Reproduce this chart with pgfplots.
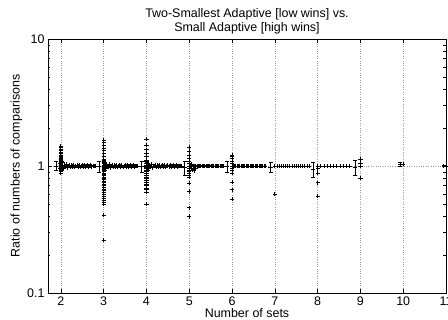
\documentclass[border=0pt]{standalone}
\usepackage{pgfplots}
\pgfplotsset{compat=1.18}
\usepackage{fontspec}
\setmainfont{Liberation Sans}
\pgfplotsset{pts/.style={black, only marks, mark=+, mark size=2.1bp, line width=0.75pt}}
\begin{document}
\begin{tikzpicture}
\useasboundingbox (-48bp,-27bp) rectangle (400bp,293bp);
\begin{axis}[at={(0,0)}, anchor=south west, scale only axis,
  width=398bp, height=254bp,
  ymode=log, xmin=1.7, xmax=11, ymin=0.1, ymax=10,
  xtick={2,3,4,5,6,7,8,9,10,11},
  ytick={0.1,1,10}, yticklabels={0.1,1,10},
  minor ytick={0.2,0.3,0.4,0.5,0.6,0.7,0.8,0.9,2,3,4,5,6,7,8,9},
  tick align=inside, major tick length=4bp, minor tick length=2.5bp,
  tick style={black, line width=0.5pt},
  grid=major, grid style={dotted, gray!80, line width=0.5pt},
  axis line style={line width=0.7pt},
  /pgf/number format/assume math mode=true,
  every tick label/.append style={font=\fontsize{12.5}{14}\selectfont},
  label style={font=\fontsize{12.5}{14}\selectfont},
  title style={font=\fontsize{12.5}{14}\selectfont, align=center, yshift=-5bp},
  title={Two-Smallest Adaptive [low wins] vs.\\Small Adaptive [high wins]},
  xlabel={Number of sets}, ylabel={Ratio of numbers of comparisons},
  xlabel style={yshift=4bp}, ylabel style={yshift=-2bp},
]
% n = 2
\addplot[pts] coordinates {(2,1.44)(2,1.40)(2,1.36)(2,1.32)(2,1.28)(2,1.25)(2,1.22)(2,1.19)(2,1.16)(2,1.14)(2,1.12)(2,1.10)(2,1.08)(2,1.06)(2,1.05)(2,1.04)(2,1.03)(2,1.02)(2,1.01)(2,1.0)(2,0.99)(2,0.98)(2,0.97)(2,0.96)(2,0.95)(2,0.94)(2,0.93)(2,0.92)(2,0.91)(2,0.90)(2,0.88)
(1.98,1.05)(1.98,0.95)(2.02,1.08)(2.03,0.93)(2.04,1.06)(2.05,0.95)
(2.025,1.02)(2.05,0.98)(2.075,1.01)(2.1,0.99)(2.125,1.03)(2.15,0.97)(2.175,1.0)(2.2,1.02)(2.225,0.98)(2.25,1.01)(2.275,0.99)(2.3,1.02)(2.325,0.98)(2.35,1.0)(2.375,1.01)(2.4,0.99)(2.425,1.02)(2.45,0.98)(2.475,1.0)(2.5,1.01)(2.525,0.99)(2.55,1.01)(2.575,0.99)(2.6,1.0)(2.625,1.01)(2.65,0.99)(2.675,1.0)(2.7,1.01)(2.725,0.99)(2.75,1.0)(2.775,1.0)(2.8,1.0)};
% n = 3
\addplot[pts] coordinates {(3,1.60)(3,1.53)(3,1.46)(3,1.38)(3,1.32)(3,1.26)(3,1.18)(3,1.13)(3,1.10)(3,1.08)(3,1.06)(3,1.04)(3,1.02)(3,1.0)(3,0.98)(3,0.96)(3,0.94)(3,0.92)(3,0.90)(3,0.88)(3,0.86)(3,0.84)(3,0.82)(3,0.80)(3,0.78)(3,0.76)(3,0.74)(3,0.72)(3,0.70)(3,0.68)(3,0.66)(3,0.64)(3,0.62)(3,0.60)(3,0.58)(3,0.56)(3,0.54)(3,0.52)(3,0.50)(3,0.41)(3,0.26)
(3.02,1.07)(3.03,0.93)(3.04,1.05)(3.05,0.95)
(3.025,1.02)(3.05,0.98)(3.075,1.01)(3.1,0.99)(3.125,1.03)(3.15,0.97)(3.175,1.0)(3.2,1.02)(3.225,0.98)(3.25,1.01)(3.275,0.99)(3.3,1.02)(3.325,0.98)(3.35,1.0)(3.375,1.01)(3.4,0.99)(3.425,1.02)(3.45,0.98)(3.475,1.0)(3.5,1.01)(3.525,0.99)(3.55,1.01)(3.575,0.99)(3.6,1.0)(3.625,1.01)(3.65,0.99)(3.675,1.0)(3.7,1.01)(3.725,0.99)(3.75,1.0)(3.775,1.0)(3.8,1.0)};
% n = 4
\addplot[pts] coordinates {(4,1.63)(4,1.46)(4,1.34)(4,1.26)(4,1.18)(4,1.11)(4,1.08)(4,1.05)(4,1.02)(4,1.0)(4,0.98)(4,0.96)(4,0.93)(4,0.90)(4,0.87)(4,0.85)(4,0.82)(4,0.80)(4,0.77)(4,0.75)(4,0.72)(4,0.70)(4,0.67)(4,0.65)(4,0.62)(4,0.50)
(4.02,1.07)(4.03,0.93)(4.04,1.05)(4.05,0.95)
(4.025,1.02)(4.05,0.98)(4.075,1.01)(4.1,0.99)(4.125,1.03)(4.15,0.97)(4.175,1.0)(4.2,1.02)(4.225,0.98)(4.25,1.01)(4.275,0.99)(4.3,1.02)(4.325,0.98)(4.35,1.0)(4.375,1.01)(4.4,0.99)(4.425,1.02)(4.45,0.98)(4.475,1.0)(4.5,1.01)(4.525,0.99)(4.55,1.01)(4.575,0.99)(4.6,1.0)(4.625,1.01)(4.65,0.99)(4.675,1.0)(4.7,1.01)(4.725,0.99)(4.75,1.0)(4.775,1.0)(4.8,1.0)(4.825,1.0)};
% n = 5
\addplot[pts] coordinates {(5,1.41)(5,1.30)(5,1.22)(5,1.15)(5,1.08)(5,1.04)(5,1.0)(5,0.96)(5,0.93)(5,0.90)(5,0.88)(5,0.85)(5,0.82)(5,0.73)(5,0.63)(5,0.47)(5,0.40)
(5.05,0.96)(5.08,0.93)(5.1,0.95)(5.12,0.92)(5.15,0.96)(5.06,1.03)
(5.03,1.0)(5.06,0.995)(5.09,1.005)(5.12,1.0)(5.15,0.995)(5.18,1.005)(5.21,1.0)(5.24,0.995)(5.27,1.005)(5.3,1.0)(5.33,0.995)(5.36,1.005)(5.39,1.0)(5.42,0.995)(5.45,1.005)(5.48,1.0)(5.51,0.995)(5.54,1.005)(5.57,1.0)(5.6,1.0)(5.63,1.0)(5.66,1.0)(5.69,1.0)(5.72,1.0)(5.75,1.0)(5.78,1.0)(5.8,1.0)};
% n = 6
\addplot[pts] coordinates {(6,1.22)(6,1.18)(6,1.15)(6,1.08)(6,1.04)(6,1.0)(6,0.96)(6,0.93)(6,0.88)(6,0.75)(6,0.65)(6,0.55)
(6.03,1.0)(6.06,1.0)(6.09,1.0)(6.12,1.0)(6.15,1.0)(6.18,1.0)(6.21,1.0)(6.24,1.0)(6.27,1.0)(6.3,1.0)(6.33,1.0)(6.36,1.0)(6.39,1.0)(6.42,1.0)(6.45,1.0)(6.48,1.0)(6.51,1.0)(6.54,1.0)(6.57,1.0)(6.6,1.0)(6.63,1.0)(6.66,1.0)(6.69,1.0)(6.72,1.0)(6.75,1.0)(6.78,1.0)};
% n = 7
\addplot[pts] coordinates {(7,1.0)(7,0.60)
(7.05,1.0)(7.1,1.0)(7.15,1.0)(7.2,1.0)(7.25,1.0)(7.3,1.0)(7.35,1.0)(7.4,1.0)(7.45,1.0)(7.5,1.0)(7.55,1.0)(7.6,1.0)(7.65,1.0)(7.7,1.0)(7.75,1.0)(7.8,1.0)};
% n = 8
\addplot[pts] coordinates {(8,1.0)(8,0.95)(8,0.88)(8,0.74)(8,0.58)
(8.075,1.0)(8.15,1.0)(8.225,1.0)(8.3,1.0)(8.375,1.0)(8.45,1.0)(8.525,1.0)(8.6,1.0)(8.675,1.0)(8.75,1.0)};
% n = 9, 10, 11
\addplot[pts] coordinates {(9,1.13)(9,1.05)(9,1.0)(9,0.80)(10,1.03)(11,1.0)};
% error bars
\addplot[pts, error bars/.cd, y dir=both, y explicit,
  error bar style={line width=0.6pt, black},
  error mark options={rotate=90, mark size=2bp, black, line width=0.6pt}]
  coordinates {
  (1.89,1.0) +- (0,0.08)
  (2.89,0.99) +- (0,0.09)
  (3.89,0.99) +- (0,0.09)
  (4.89,0.97) +- (0,0.12)
  (5.89,0.99) +- (0,0.10)
  (6.9,0.98) +- (0,0.08)
  (7.9,0.94) +- (0,0.12)
  (8.88,0.98) +- (0,0.13)
  (9.93,1.03) +- (0,0.035)
  (10.95,1.0) +- (0,0.012)
  };
\end{axis}
\end{tikzpicture}
\end{document}
